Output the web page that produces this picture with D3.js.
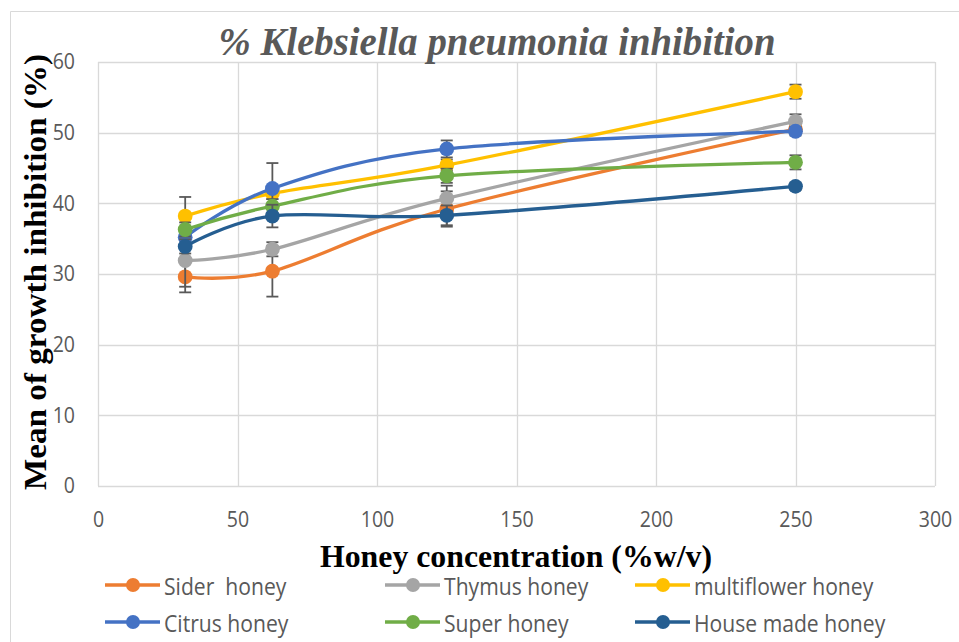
<!DOCTYPE html>
<html>
<head>
<meta charset="utf-8">
<script src="https://cdn.jsdelivr.net/npm/d3@7"></script>
<style>
  html, body { margin: 0; padding: 0; background: #fff; }
  svg { display: block; }
</style>
</head>
<body>
<svg id="chart" width="959" height="642"></svg>
<script>
// Honey concentrations (%w/v) tested
const concentrations = [31.25, 62.5, 125, 250];

// Mean growth inhibition (%) per honey type
const siderHoney       = [29.6, 30.4, 39.2, 50.5];
const thymusHoney      = [31.9, 33.5, 40.7, 51.6];
const multiflowerHoney = [38.2, 41.4, 45.4, 55.8];
const citrusHoney      = [35.2, 42.1, 47.7, 50.2];
const superHoney       = [36.3, 39.6, 43.9, 45.8];
const houseMadeHoney   = [33.9, 38.2, 38.3, 42.4];

// Error bar half-widths (±) for each honey type
const siderErr       = [2.2, 3.6, 2.5, 0.6];
const thymusErr      = [3.7, 1.0, 1.8, 1.0];
const multiflowerErr = [2.7, 0.8, 0.8, 1.0];
const citrusErr      = [1.0, 3.6, 1.2, 0.6];
const superErr       = [1.0, 1.0, 1.0, 1.0];
const houseMadeErr   = [1.0, 1.6, 1.4, 0.5];

const seriesNames = ["Sider  honey", "Thymus honey", "multiflower honey",
                     "Citrus honey", "Super honey", "House made honey"];
const seriesColors = ["#ED7D31", "#A5A5A5", "#FFC000", "#4472C4", "#70AD47", "#255E91"];

const xTicks = [0, 50, 100, 150, 200, 250, 300];
const yTicks = [0, 10, 20, 30, 40, 50, 60];

const seriesValues = [siderHoney, thymusHoney, multiflowerHoney, citrusHoney, superHoney, houseMadeHoney];
const seriesErrors = [siderErr, thymusErr, multiflowerErr, citrusErr, superErr, houseMadeErr];

const series = seriesNames.map((name, i) => ({
  name,
  color: seriesColors[i],
  points: concentrations.map((c, j) => ({ x: c, y: seriesValues[i][j], e: seriesErrors[i][j] }))
}));

const svg = d3.select("#chart");

// Outer chart frame
svg.append("path")
  .attr("d", "M10.5,642 L10.5,11.5 L959,11.5")
  .attr("fill", "none").attr("stroke", "#d9d9d9").attr("stroke-width", 1);

const x = d3.scaleLinear().domain([0, 300]).range([98, 935]);
const y = d3.scaleLinear().domain([0, 60]).range([486, 62]);

// Gridlines
const grid = svg.append("g");
grid.selectAll(".hg").data(yTicks).join("line")
  .attr("x1", x(0)).attr("x2", x(300))
  .attr("y1", d => Math.round(y(d)) + 0.5).attr("y2", d => Math.round(y(d)) + 0.5)
  .attr("stroke", "#d9d9d9").attr("stroke-width", 1.3);
grid.selectAll(".vg").data(xTicks).join("line")
  .attr("y1", y(0)).attr("y2", y(60))
  .attr("x1", d => Math.round(x(d)) + 0.5).attr("x2", d => Math.round(x(d)) + 0.5)
  .attr("stroke", "#d9d9d9").attr("stroke-width", 1.3);

// Squeeze a text element horizontally by a factor (narrow face look)
function narrow(sel, factor) {
  sel.each(function () {
    const w = this.getComputedTextLength();
    d3.select(this).attr("textLength", w * factor).attr("lengthAdjust", "spacingAndGlyphs");
  });
}

// Axes (tick labels only, no domain / tick marks)
const yAxis = svg.append("g")
  .attr("transform", `translate(${x(0) - 23},0)`)
  .call(d3.axisLeft(y).tickValues(yTicks).tickSize(0).tickPadding(0).tickFormat(d3.format("d")));
yAxis.select(".domain").remove();
yAxis.selectAll("text")
  .attr("font-family", "'Open Sans', sans-serif").attr("font-size", 21).attr("fill", "#595959")
  .call(narrow, 0.93);

const xAxis = svg.append("g")
  .attr("transform", `translate(0,${y(0) + 26})`)
  .call(d3.axisBottom(x).tickValues(xTicks).tickSize(0).tickPadding(0).tickFormat(d3.format("d")));
xAxis.select(".domain").remove();
xAxis.selectAll("text")
  .attr("font-family", "'Open Sans', sans-serif").attr("font-size", 21).attr("fill", "#595959")
  .call(narrow, 0.93);

// Titles
svg.append("text")
  .attr("x", 497).attr("y", 55).attr("text-anchor", "middle")
  .attr("font-family", "'Liberation Serif', serif").attr("font-weight", "bold").attr("font-style", "italic")
  .attr("font-size", 41).attr("fill", "#595959")
  .attr("textLength", 557).attr("lengthAdjust", "spacingAndGlyphs")
  .text("% Klebsiella pneumonia inhibition");

svg.append("text")
  .attr("x", 516).attr("y", 567).attr("text-anchor", "middle")
  .attr("font-family", "'Liberation Serif', serif").attr("font-weight", "bold")
  .attr("font-size", 32).attr("fill", "#000")
  .attr("textLength", 392).attr("lengthAdjust", "spacingAndGlyphs")
  .text("Honey concentration (%w/v)");

svg.append("text")
  .attr("transform", "translate(46,272) rotate(-90)").attr("text-anchor", "middle")
  .attr("font-family", "'Liberation Serif', serif").attr("font-weight", "bold")
  .attr("font-size", 32).attr("fill", "#000")
  .attr("textLength", 436).attr("lengthAdjust", "spacingAndGlyphs")
  .text("Mean of growth inhibition (%)");

// Series: smoothed lines, error bars, markers
const line = d3.line().x(d => x(d.x)).y(d => y(d.y)).curve(d3.curveCardinal.tension(0));
const plot = svg.append("g");

series.forEach(s => {
  const g = plot.append("g");
  g.append("path").datum(s.points)
    .attr("d", line).attr("fill", "none")
    .attr("stroke", s.color).attr("stroke-width", 3.3).attr("stroke-linecap", "round");

  const eb = g.selectAll(".eb").data(s.points).join("g").attr("stroke", "#595959").attr("stroke-width", 1.8);
  eb.append("line")
    .attr("x1", d => x(d.x)).attr("x2", d => x(d.x))
    .attr("y1", d => y(d.y - d.e)).attr("y2", d => y(d.y + d.e));
  eb.append("line")
    .attr("x1", d => x(d.x) - 6).attr("x2", d => x(d.x) + 6)
    .attr("y1", d => y(d.y + d.e)).attr("y2", d => y(d.y + d.e));
  eb.append("line")
    .attr("x1", d => x(d.x) - 6).attr("x2", d => x(d.x) + 6)
    .attr("y1", d => y(d.y - d.e)).attr("y2", d => y(d.y - d.e));

  g.selectAll(".mk").data(s.points).join("circle")
    .attr("cx", d => x(d.x)).attr("cy", d => y(d.y)).attr("r", 7.4)
    .attr("fill", s.color);
});

// Legend: 3 columns x 2 rows
const legendCols = [105, 385, 635];
const legendRows = [585, 622];
const legend = svg.append("g");
series.forEach((s, i) => {
  const lx = legendCols[i % 3], ly = legendRows[Math.floor(i / 3)];
  const g = legend.append("g");
  g.append("line").attr("x1", lx).attr("x2", lx + 55).attr("y1", ly).attr("y2", ly)
    .attr("stroke", s.color).attr("stroke-width", 3.3);
  g.append("circle").attr("cx", lx + 28).attr("cy", ly).attr("r", 7).attr("fill", s.color);
  g.append("text").attr("x", lx + 59).attr("y", ly + 10)
    .attr("font-family", "'Open Sans', sans-serif").attr("font-size", 24).attr("fill", "#595959")
    .attr("xml:space", "preserve")
    .text(s.name)
    .call(narrow, 0.88);
});
</script>
</body>
</html>
